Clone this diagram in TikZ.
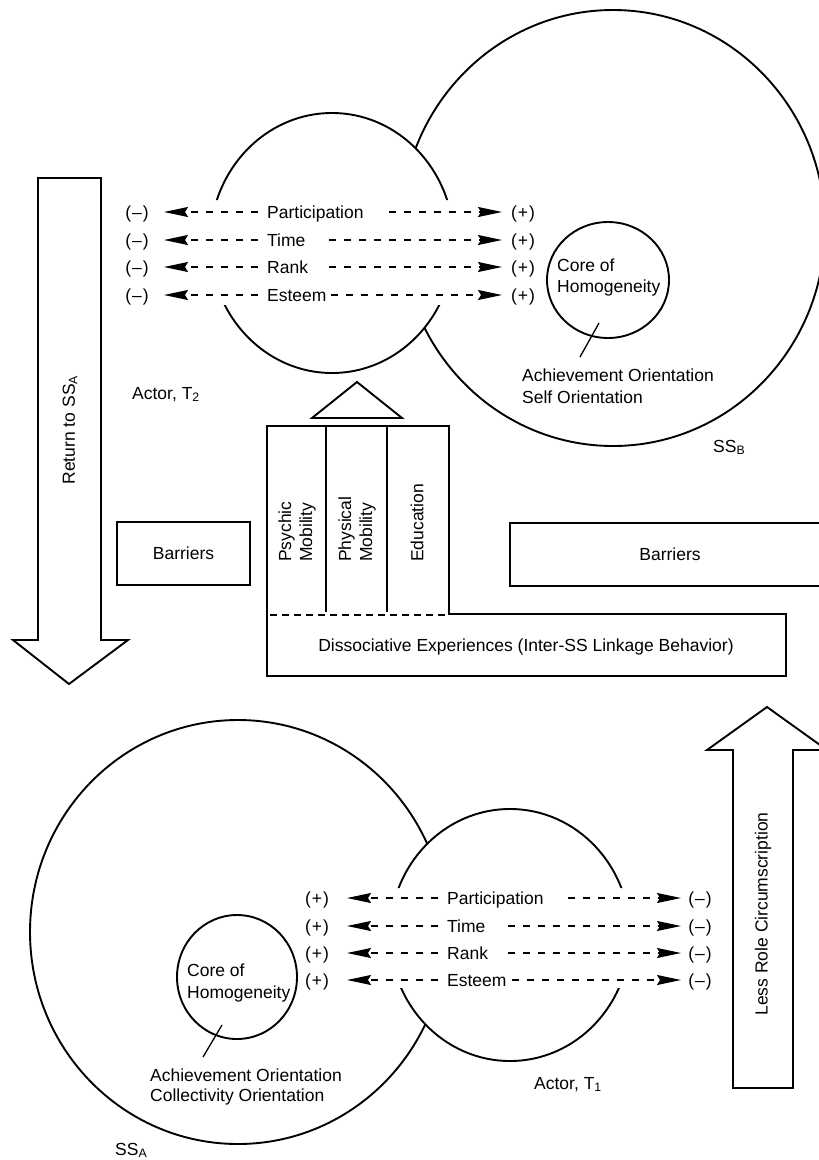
\documentclass[tikz,border=0pt]{standalone}
\usepackage{fontspec}
\setmainfont{Liberation Sans}
\usetikzlibrary{arrows.meta}
\begin{document}
\begin{tikzpicture}[x=1pt,y=-1pt,
  font=\fontsize{17.5}{21}\selectfont,
  shp/.style={line width=1.9pt},
  txt/.style={inner sep=0pt, anchor=base west},
  sgn/.style={inner sep=0pt, anchor=base},
  darr/.style={line width=1.4pt, dash pattern=on 7pt off 8pt, -{Stealth[length=24pt,width=10pt,inset=3pt]}},
  box/.style={draw, line width=1.9pt, inner sep=0pt},
  rot/.style={inner sep=0pt, rotate=90}]
\useasboundingbox (0,0) rectangle (819,1160);
\fill[white] (0,0) rectangle (819,1160);

% ---------------- top: SS_B and Actor T2 ----------------
\begin{scope}[even odd rule]
  \clip (-20,-20) rectangle (860,1180) (332,243) ellipse [x radius=122, y radius=130];
  \draw[shp] (613,228) ellipse [x radius=212, y radius=218];
\end{scope}
\begin{scope}
  \clip (-20,-20) rectangle (860,200) (-20,305) rectangle (860,1180);
  \draw[shp] (332,243) ellipse [x radius=122, y radius=130];
\end{scope}
\draw[shp] (608,280) ellipse [x radius=61, y radius=58];
\node[txt] (coreBa) at (557,271) {Core of};
\node[txt] (coreBb) at (557,292) {Homogeneity};
\coordinate (ptrBa) at (599,323);
\coordinate (ptrBb) at (580,357);
\draw[line width=1.3pt] (ptrBa) -- (ptrBb);
\node[txt] (achB) at (522,381) {Achievement Orientation};
\node[txt] (selfB) at (522,403) {Self Orientation};
\node[txt] (actorT2) at (132,399) {Actor, T\textsubscript{2}};
\node[txt] (ssB) at (713,452) {SS\textsubscript{B}};

\foreach \y/\w/\n/\rs in {212/Participation/p/389, 240/Time/t/329, 267/Rank/r/329, 295/Esteem/e/331} {
  \node[txt] (T\n) at (267,\y+6.3) {\w};
  \node[sgn] (Tm\n) at (137,\y+6.3) {(\kern1pt–\kern1pt)};
  \node[sgn] (Tp\n) at (523,\y+6.3) {(\kern1pt+\kern1pt)};
  \coordinate (Tl\n) at (258,\y);
  \coordinate (Tlt\n) at (164,\y);
  \coordinate (Trs\n) at (\rs,\y);
  \coordinate (Trt\n) at (502,\y);
  \draw[darr] (Tl\n) -- (Tlt\n);
  \draw[darr] (Trs\n) -- (Trt\n);
}

% ---------------- return arrow ----------------
\draw[shp, line join=miter] (38,178) -- (101,178) -- (101,640) -- (128,640) -- (69,684) -- (13,640) -- (38,640) -- cycle;
\node[rot] (ret) at (70,430) {Return to SS\textsubscript{A}};

% ---------------- middle ----------------
\draw[shp, line join=miter] (312,418) -- (357,382) -- (402,418) -- cycle;
\draw[shp, line join=miter] (267,426) -- (449,426) -- (449,614) -- (786,614) -- (786,676) -- (267,676) -- cycle;
\draw[line width=1.5pt] (326,426) -- (326,612);
\draw[line width=1.5pt] (387,426) -- (387,612);
\draw[line width=2pt, dash pattern=on 7pt off 5pt] (270,615) -- (447,615);
\node[rot, anchor=west, align=left] (psy) at (297,562) {Psychic\\Mobility};
\node[rot, anchor=west, align=left] (phy) at (357,562) {Physical\\Mobility};
\node[rot, anchor=west] (edu) at (417,562) {Education};
\node (dis) at (526,647) {Dissociative Experiences (Inter-SS Linkage Behavior)};

\node[box, minimum width=133pt, minimum height=63pt] (barL) at (183.5,553.5) {Barriers};
\node[box, minimum width=320pt, minimum height=63pt] (barR) at (670,554.5) {Barriers};

% ---------------- less role arrow ----------------
\draw[shp, line join=miter] (733,1088) -- (733,750) -- (707,750) -- (767,707) -- (827,750) -- (793,750) -- (793,1088) -- cycle;
\node[rot] (less) at (763,914) {Less Role Circumscription};

% ---------------- bottom: SS_A and Actor T1 ----------------
\begin{scope}[even odd rule]
  \clip (-20,-20) rectangle (860,1180) (510,935) ellipse [x radius=120, y radius=126];
  \draw[shp] (238,932) ellipse [x radius=208, y radius=212];
\end{scope}
\begin{scope}
  \clip (-20,-20) rectangle (860,888) (-20,988) rectangle (860,1180);
  \draw[shp] (510,935) ellipse [x radius=120, y radius=126];
\end{scope}
\draw[shp] (237,977) ellipse [x radius=60, y radius=62];
\node[txt] (coreAa) at (187,976) {Core of};
\node[txt] (coreAb) at (187,998) {Homogeneity};
\coordinate (ptrAa) at (222,1025);
\coordinate (ptrAb) at (203,1057);
\draw[line width=1.3pt] (ptrAa) -- (ptrAb);
\node[txt] (achA) at (150,1081) {Achievement Orientation};
\node[txt] (colA) at (150,1101) {Collectivity Orientation};
\node[txt] (actorT1) at (534,1089) {Actor, T\textsubscript{1}};
\node[txt] (ssA) at (115,1155) {SS\textsubscript{A}};

\foreach \y/\w/\n/\rs in {898/Participation/p/568, 926/Time/t/508, 953/Rank/r/508, 980/Esteem/e/512} {
  \node[txt] (B\n) at (447,\y+6.3) {\w};
  \node[sgn] (Bp\n) at (317,\y+6.3) {(\kern1pt+\kern1pt)};
  \node[sgn] (Bm\n) at (700,\y+6.3) {(\kern1pt–\kern1pt)};
  \coordinate (Bl\n) at (438,\y);
  \coordinate (Blt\n) at (347,\y);
  \coordinate (Brs\n) at (\rs,\y);
  \coordinate (Brt\n) at (681,\y);
  \draw[darr] (Bl\n) -- (Blt\n);
  \draw[darr] (Brs\n) -- (Brt\n);
}
\end{tikzpicture}
\end{document}
